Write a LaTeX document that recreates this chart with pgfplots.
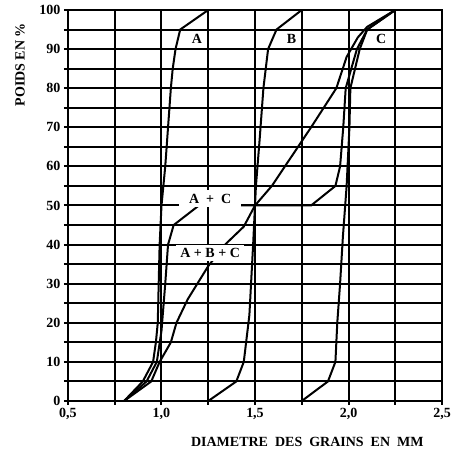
\documentclass[border=0pt]{standalone}
\usepackage{fontspec}
\setmainfont{Liberation Serif}
\usepackage{pgfplots}
\pgfplotsset{compat=1.18}

\begin{document}
\begin{tikzpicture}
\begin{axis}[
  scale only axis, width=374pt, height=391pt,
  xmin=0.5, xmax=2.5, ymin=0, ymax=100,
  xtick={0.5,1,1.5,2,2.5}, minor xtick={0.75,1.25,1.75,2.25},
  ytick={0,10,20,30,40,50,60,70,80,90,100}, minor ytick={5,15,25,35,45,55,65,75,85,95},
  xmajorgrids, ymajorgrids, xminorgrids, yminorgrids,
  grid style={black, line width=2pt},
  major grid style={black, line width=2pt},
  minor grid style={black, line width=2pt},
  axis line style={line width=2pt},
  tick align=outside, xtick pos=bottom, ytick pos=left,
  major tick length=4pt, minor tick length=4pt,
  tick style={black, line width=2pt},
  font=\bfseries\fontsize{14}{16}\selectfont,
  /pgf/number format/assume math mode=true,
  xticklabel style={/pgf/number format/.cd, fixed, fixed zerofill, precision=1, use comma},
  clip=false,
]
% A
\addplot[black, line width=2pt, mark=none] coordinates {(0.8,0) (0.9,5) (0.955,10) (0.97,15) (0.98,20) (0.985,30) (0.99,40) (1.0,50) (1.02,60) (1.035,70) (1.05,80) (1.06,85) (1.075,90) (1.1,95) (1.25,100)};
% B
\addplot[black, line width=2pt, mark=none] coordinates {(1.25,0) (1.4,5) (1.44,10) (1.47,22) (1.49,40) (1.505,55) (1.525,67) (1.545,80) (1.57,90) (1.615,95) (1.75,100)};
% C
\addplot[black, line width=2pt, mark=none] coordinates {(1.75,0) (1.89,5) (1.93,10) (1.94,20) (1.955,30) (1.97,42) (1.99,55) (2.005,70) (2.01,80) (2.06,90) (2.1,95) (2.25,100)};
% A + C
\addplot[black, line width=2pt, mark=none] coordinates {(0.8,0) (0.92,5) (0.975,10) (1.0,18) (1.02,30) (1.035,40) (1.065,45) (1.2,50) (1.8,50) (1.93,55) (1.955,60) (1.972,70) (1.985,80) (2.045,90) (2.1,95) (2.25,100)};
% A + B + C
\addplot[black, line width=2pt, mark=none] coordinates {(0.8,0) (0.945,5) (0.99,10) (1.05,15) (1.08,20) (1.14,26) (1.25,34.5) (1.34,40) (1.44,44.6) (1.5,50) (1.59,55) (1.8,70) (1.935,80) (1.99,88) (2.05,93) (2.1,95.7) (2.25,100)};

\node at (axis cs:1.19,92.5) {A};
\node at (axis cs:1.695,92.5) {B};
\node at (axis cs:2.175,92.5) {C};
\node[fill=white, inner xsep=10pt, inner ysep=4pt] at (axis cs:1.26,51.8) {A\ \ +\ \ C};
\node[fill=white, inner xsep=4pt, inner ysep=3pt] at (axis cs:1.26,37.8) {A + B + C};

\node[rotate=90] at (rel axis cs:-0.128,0.86) {POIDS EN \%};
\node at (rel axis cs:0.64,-0.105) {DIAMETRE\ \ DES\ \ GRAINS\ \ EN\ \ MM};
\coordinate (bl) at (rel axis cs:0,0);
\end{axis}
\pgfresetboundingbox
\path (bl) ++(-68pt,-52pt) rectangle ++(456pt,453pt);
\end{tikzpicture}
\end{document}
